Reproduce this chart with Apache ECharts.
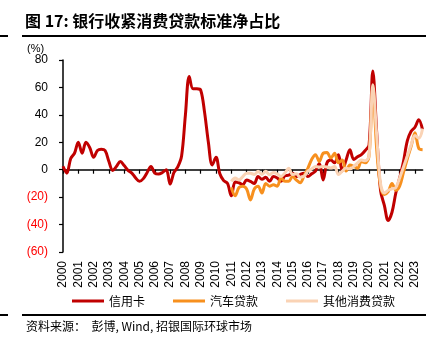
<!DOCTYPE html>
<html>
<head>
<meta charset="utf-8">
<script src="https://cdn.jsdelivr.net/npm/echarts@6/dist/echarts.min.js"></script>
<style>
  html, body { margin: 0; padding: 0; background: #fff; }
  #chart { width: 446px; height: 348px; }
</style>
</head>
<body>
<div id="chart"></div>
<script>
// Net share of banks tightening consumer-loan standards, quarterly surveys (%)
const startYear = 2000;           // first survey quarter of the credit-card series
const otherStartYear = 2011;      // auto / other consumer series begin here

const seriesNames = ['信用卡', '汽车贷款', '其他消费贷款'];

// 2000Q1 .. 2023Q3
const creditCard = [
  2.5, -2.5, 8, 12,
  20, 12, 20, 16,
  9, 14, 15, 14,
  6, -0.5, 2.5, 6,
  3, -0.5, -2.5, -6,
  -8.5, -6.5, -2, 2.4,
  -2.5, -3.2, -2, 0,
  -10.5, -2, 2, 10,
  40, 68, 59, 59,
  58, 42, 20, 3.5,
  9, -3, -8, -10,
  -19, -9, -9.5, -11,
  -7.5, -8.5, -10, -5,
  -7, -5.5, -8.5, -5,
  -6, -8.5, -4.5, -4,
  -2.5, -5, -3.5, -2.5,
  -5, -3, -1, 4.5,
  -7.5, 5, 7, 5,
  11, -1, 7, 14.5,
  7.5, 9.5, 11, 14,
  18, 72, 27, -15,
  -26, -37, -31, -17,
  -6, 6, 21, 28,
  31, 36.5, 29
];

// 2011Q1 .. 2023Q3
const autoLoans = [
  -13, -19, -13, -12,
  -14, -22, -14, -12,
  -17, -10, -12, -11,
  -12, -6, -8.5, -8.5,
  -5, -7.5, -9.5, -4.5,
  1, 7.5, 11, 6,
  12, 12.5, 8.5, 12,
  5, 7, -1, 3.5,
  2.5, 1, 6, 5,
  10, 60, 15, -12,
  -18, -16, -10, -15,
  -12, -2, 8, 17,
  27, 15.5, 14.5
];

// 2011Q1 .. 2023Q3
const otherConsumer = [
  -8.5, -6, -7.5, -5,
  -2.5, -2.5, -3.5, -1.2,
  -3.5, -1.2, -3.7, -2,
  -3, -4.9, -2.4, 1,
  -3.5, -3, -5.5, -4.9,
  -1, 0.5, 2.4, 2,
  2.4, 2, 1.2, 2.4,
  -3.5, -1, 1.2, 0.5,
  2.4, 5, 7, 6.5,
  10, 62, 25, -10,
  -17, -15, -14, -13,
  -6, 2, 10, 18,
  25, 23, 30
];

const yearTicks = [];
for (let y = 2000; y <= 2023; y++) yearTicks.push(y);

const colors = ['#C00000', '#F7901E', '#FAD3B5'];

// Quarterly values placed at year + quarter/4
function toPoints(values, firstYear) {
  return values.map((v, i) => [firstYear + i / 4, v]);
}

const cjk = '"Noto Sans CJK SC", sans-serif';
const latin = '"Liberation Sans", Arial, sans-serif';

const chart = echarts.init(document.getElementById('chart'), null, { renderer: 'canvas' });

const xRange = { min: 2000, max: 2023.5 };

chart.setOption({
  animation: false,
  backgroundColor: '#fff',
  grid: { left: 63, right: 23.4, top: 60, bottom: 96, containLabel: false },
  graphic: [
    {
      type: 'text', left: 25, top: 13,
      style: { text: '图 17: 银行收紧消费贷款标准净占比', font: 'bold 16px ' + cjk, fill: '#000' }
    },
    { type: 'rect', shape: { x: 22, y: 35, width: 404, height: 2 }, style: { fill: '#000' } },
    { type: 'rect', shape: { x: 0, y: 35, width: 8, height: 2 }, style: { fill: '#000' } },
    {
      type: 'text', left: 27, top: 43,
      style: { text: '(%)', font: '11px ' + latin, fill: '#000' }
    },
    { type: 'rect', shape: { x: 22, y: 314, width: 404, height: 2 }, style: { fill: '#000' } },
    { type: 'rect', shape: { x: 0, y: 314, width: 8, height: 2 }, style: { fill: '#000' } },
    {
      type: 'text', left: 26, top: 320,
      style: { text: '资料来源：  彭博, Wind, 招银国际环球市场', font: '12px ' + cjk, fill: '#000' }
    }
  ],
  legend: {
    data: seriesNames,
    left: 72,
    top: 295,
    padding: 0,
    icon: 'rect',
    itemWidth: 32,
    itemHeight: 3,
    itemGap: 28,
    textStyle: { fontFamily: cjk, fontSize: 12, color: '#000' }
  },
  xAxis: [
    {
      type: 'value', min: xRange.min, max: xRange.max, interval: 1,
      axisLine: { show: true, onZero: true, lineStyle: { color: '#000', width: 1.5 } },
      axisTick: { show: true, inside: false, length: 4, customValues: yearTicks, lineStyle: { color: '#000', width: 1.2 } },
      axisLabel: { show: false },
      splitLine: { show: false }
    },
    {
      type: 'value', min: xRange.min, max: xRange.max, interval: 1, position: 'bottom',
      axisLine: { show: false, onZero: false },
      axisTick: { show: false },
      axisLabel: {
        show: true, rotate: 90, margin: 9, customValues: yearTicks,
        fontFamily: latin, fontSize: 12, color: '#000',
        formatter: v => String(v)
      },
      splitLine: { show: false }
    }
  ],
  yAxis: {
    type: 'value', min: -60, max: 80, interval: 20,
    axisLine: { show: true, lineStyle: { color: '#000', width: 1.5 } },
    axisTick: { show: true, inside: false, length: 4, lineStyle: { color: '#000', width: 1.2 } },
    splitLine: { show: false },
    axisLabel: {
      margin: 15, fontFamily: latin, fontSize: 12, color: '#000',
      formatter: v => (v < 0 ? '{neg|(' + Math.abs(v) + ')}' : String(v)),
      rich: { neg: { color: '#FF0000', fontFamily: latin, fontSize: 12 } }
    }
  },
  series: [
    {
      name: seriesNames[0], type: 'line', xAxisIndex: 0,
      data: toPoints(creditCard, startYear),
      showSymbol: false, smooth: 0.35,
      lineStyle: { color: colors[0], width: 3 }, itemStyle: { color: colors[0] }
    },
    {
      name: seriesNames[1], type: 'line', xAxisIndex: 0,
      data: toPoints(autoLoans, otherStartYear),
      showSymbol: false, smooth: 0.35,
      lineStyle: { color: colors[1], width: 3 }, itemStyle: { color: colors[1] }
    },
    {
      name: seriesNames[2], type: 'line', xAxisIndex: 0,
      data: toPoints(otherConsumer, otherStartYear),
      showSymbol: false, smooth: 0.35,
      lineStyle: { color: colors[2], width: 3 }, itemStyle: { color: colors[2] }
    }
  ]
});
</script>
</body>
</html>
